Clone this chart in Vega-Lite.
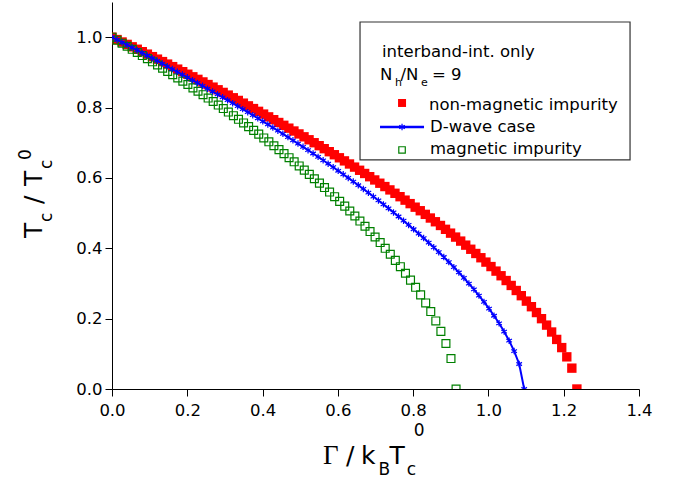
{
  "$schema": "https://vega.github.io/schema/vega-lite/v6.json",
  "width": 527,
  "height": 387,
  "autosize": "none",
  "padding": {"left": 112, "top": 2, "right": 38, "bottom": 91},
  "background": "white",
  "config": {
    "view": {"stroke": null},
    "axis": {"domainColor": "black", "tickColor": "black", "labelColor": "black", "grid": false, "labelFont": "DejaVu Sans", "labelFontSize": 16.5, "domainWidth": 1, "tickWidth": 1},
    "text": {"font": "DejaVu Sans", "color": "black"}
  },
  "datasets": {
    "red": [
      {"g":0,"t":1},{"g":0.0134,"t":0.9932},{"g":0.0268,"t":0.9863},{"g":0.0403,"t":0.9795},{"g":0.0537,"t":0.9726},{"g":0.0671,"t":0.9657},{"g":0.0805,"t":0.9587},{"g":0.094,"t":0.9518},{"g":0.1074,"t":0.9447},{"g":0.1208,"t":0.9376},{"g":0.1342,"t":0.9306},{"g":0.1477,"t":0.9235},{"g":0.1611,"t":0.9163},{"g":0.1745,"t":0.9092},{"g":0.1879,"t":0.902},{"g":0.2014,"t":0.8947},{"g":0.2148,"t":0.8874},{"g":0.2282,"t":0.8801},{"g":0.2416,"t":0.8728},{"g":0.2551,"t":0.8654},{"g":0.2685,"t":0.858},{"g":0.2819,"t":0.8505},{"g":0.2953,"t":0.843},{"g":0.3088,"t":0.8354},{"g":0.3222,"t":0.8278},{"g":0.3356,"t":0.8202},{"g":0.349,"t":0.8125},{"g":0.3624,"t":0.8048},{"g":0.3759,"t":0.7971},{"g":0.3893,"t":0.7892},{"g":0.4027,"t":0.7814},{"g":0.4161,"t":0.7735},{"g":0.4296,"t":0.7655},{"g":0.443,"t":0.7575},{"g":0.4564,"t":0.7495},{"g":0.4698,"t":0.7414},{"g":0.4833,"t":0.7333},{"g":0.4967,"t":0.725},{"g":0.5101,"t":0.7168},{"g":0.5235,"t":0.7084},{"g":0.537,"t":0.7},{"g":0.5504,"t":0.6916},{"g":0.5638,"t":0.6831},{"g":0.5772,"t":0.6745},{"g":0.5907,"t":0.6659},{"g":0.6041,"t":0.6572},{"g":0.6175,"t":0.6484},{"g":0.6309,"t":0.6396},{"g":0.6444,"t":0.6307},{"g":0.6578,"t":0.6217},{"g":0.6712,"t":0.6126},{"g":0.6846,"t":0.6034},{"g":0.698,"t":0.5942},{"g":0.7115,"t":0.5849},{"g":0.7249,"t":0.5754},{"g":0.7383,"t":0.5659},{"g":0.7517,"t":0.5563},{"g":0.7652,"t":0.5466},{"g":0.7786,"t":0.5368},{"g":0.792,"t":0.5269},{"g":0.8054,"t":0.5168},{"g":0.8189,"t":0.5067},{"g":0.8323,"t":0.4964},{"g":0.8457,"t":0.486},{"g":0.8591,"t":0.4754},{"g":0.8726,"t":0.4648},{"g":0.886,"t":0.4539},{"g":0.8994,"t":0.443},{"g":0.9128,"t":0.4318},{"g":0.9263,"t":0.4204},{"g":0.9397,"t":0.4089},{"g":0.9531,"t":0.3972},{"g":0.9665,"t":0.3852},{"g":0.98,"t":0.3731},{"g":0.9934,"t":0.3607},{"g":1.0068,"t":0.348},{"g":1.0202,"t":0.3351},{"g":1.0336,"t":0.3219},{"g":1.0471,"t":0.3083},{"g":1.0605,"t":0.2943},{"g":1.0739,"t":0.28},{"g":1.0873,"t":0.2652},{"g":1.1008,"t":0.2498},{"g":1.1142,"t":0.2339},{"g":1.1276,"t":0.2173},{"g":1.141,"t":0.1999},{"g":1.1545,"t":0.1816},{"g":1.1679,"t":0.162},{"g":1.1813,"t":0.1409},{"g":1.1947,"t":0.1177},{"g":1.2082,"t":0.0914},{"g":1.2216,"t":0.0593},{"g":1.235,"t":0}
    ],
    "blue": [
      {"g":0,"t":1},{"g":0.0134,"t":0.9926},{"g":0.0267,"t":0.9853},{"g":0.0401,"t":0.9779},{"g":0.0534,"t":0.9704},{"g":0.0668,"t":0.963},{"g":0.0801,"t":0.9554},{"g":0.0935,"t":0.9479},{"g":0.1068,"t":0.9403},{"g":0.1202,"t":0.9327},{"g":0.1335,"t":0.925},{"g":0.1469,"t":0.9172},{"g":0.1602,"t":0.9094},{"g":0.1736,"t":0.9016},{"g":0.187,"t":0.8938},{"g":0.2003,"t":0.8859},{"g":0.2137,"t":0.8779},{"g":0.227,"t":0.8699},{"g":0.2404,"t":0.8618},{"g":0.2537,"t":0.8537},{"g":0.2671,"t":0.8456},{"g":0.2804,"t":0.8374},{"g":0.2938,"t":0.8291},{"g":0.3071,"t":0.8208},{"g":0.3205,"t":0.8124},{"g":0.3339,"t":0.804},{"g":0.3472,"t":0.7955},{"g":0.3606,"t":0.7869},{"g":0.3739,"t":0.7783},{"g":0.3873,"t":0.7696},{"g":0.4006,"t":0.7608},{"g":0.414,"t":0.752},{"g":0.4273,"t":0.7432},{"g":0.4407,"t":0.7342},{"g":0.454,"t":0.7252},{"g":0.4674,"t":0.7161},{"g":0.4807,"t":0.7069},{"g":0.4941,"t":0.6977},{"g":0.5075,"t":0.6883},{"g":0.5208,"t":0.6789},{"g":0.5342,"t":0.6694},{"g":0.5475,"t":0.6598},{"g":0.5609,"t":0.6501},{"g":0.5742,"t":0.6403},{"g":0.5876,"t":0.6304},{"g":0.6009,"t":0.6203},{"g":0.6143,"t":0.6102},{"g":0.6276,"t":0.6},{"g":0.641,"t":0.5897},{"g":0.6543,"t":0.5792},{"g":0.6677,"t":0.5686},{"g":0.6811,"t":0.5579},{"g":0.6944,"t":0.547},{"g":0.7078,"t":0.536},{"g":0.7211,"t":0.5248},{"g":0.7345,"t":0.5135},{"g":0.7478,"t":0.502},{"g":0.7612,"t":0.4903},{"g":0.7745,"t":0.4785},{"g":0.7879,"t":0.4664},{"g":0.8012,"t":0.4541},{"g":0.8146,"t":0.4416},{"g":0.8279,"t":0.4289},{"g":0.8413,"t":0.4159},{"g":0.8547,"t":0.4026},{"g":0.868,"t":0.389},{"g":0.8814,"t":0.3752},{"g":0.8947,"t":0.3609},{"g":0.9081,"t":0.3463},{"g":0.9214,"t":0.3312},{"g":0.9348,"t":0.3157},{"g":0.9481,"t":0.2996},{"g":0.9615,"t":0.283},{"g":0.9748,"t":0.2656},{"g":0.9882,"t":0.2475},{"g":1.0016,"t":0.2284},{"g":1.0149,"t":0.2082},{"g":1.0283,"t":0.1867},{"g":1.0416,"t":0.1633},{"g":1.055,"t":0.1374},{"g":1.0683,"t":0.1077},{"g":1.0817,"t":0.0711},{"g":1.095,"t":0}
    ],
    "green": [
      {"g":0,"t":1},{"g":0.0134,"t":0.9915},{"g":0.0269,"t":0.9829},{"g":0.0403,"t":0.9742},{"g":0.0538,"t":0.9655},{"g":0.0672,"t":0.9567},{"g":0.0806,"t":0.9478},{"g":0.0941,"t":0.939},{"g":0.1075,"t":0.93},{"g":0.121,"t":0.9209},{"g":0.1344,"t":0.9118},{"g":0.1479,"t":0.9027},{"g":0.1613,"t":0.8935},{"g":0.1747,"t":0.8842},{"g":0.1882,"t":0.8749},{"g":0.2016,"t":0.8654},{"g":0.2151,"t":0.8559},{"g":0.2285,"t":0.8463},{"g":0.2419,"t":0.8366},{"g":0.2554,"t":0.8269},{"g":0.2688,"t":0.8171},{"g":0.2823,"t":0.8071},{"g":0.2957,"t":0.7971},{"g":0.3091,"t":0.7871},{"g":0.3226,"t":0.7769},{"g":0.336,"t":0.7666},{"g":0.3495,"t":0.7562},{"g":0.3629,"t":0.7457},{"g":0.3763,"t":0.7351},{"g":0.3898,"t":0.7244},{"g":0.4032,"t":0.7136},{"g":0.4167,"t":0.7026},{"g":0.4301,"t":0.6915},{"g":0.4436,"t":0.6803},{"g":0.457,"t":0.669},{"g":0.4704,"t":0.6575},{"g":0.4839,"t":0.6458},{"g":0.4973,"t":0.6341},{"g":0.5108,"t":0.6221},{"g":0.5242,"t":0.61},{"g":0.5376,"t":0.5977},{"g":0.5511,"t":0.5852},{"g":0.5645,"t":0.5726},{"g":0.578,"t":0.5597},{"g":0.5914,"t":0.5466},{"g":0.6048,"t":0.5333},{"g":0.6183,"t":0.5197},{"g":0.6317,"t":0.5059},{"g":0.6452,"t":0.4918},{"g":0.6586,"t":0.4773},{"g":0.6721,"t":0.4626},{"g":0.6855,"t":0.4475},{"g":0.6989,"t":0.4321},{"g":0.7124,"t":0.4162},{"g":0.7258,"t":0.3999},{"g":0.7393,"t":0.383},{"g":0.7527,"t":0.3657},{"g":0.7661,"t":0.3477},{"g":0.7796,"t":0.329},{"g":0.793,"t":0.3095},{"g":0.8065,"t":0.289},{"g":0.8199,"t":0.2675},{"g":0.8333,"t":0.2446},{"g":0.8468,"t":0.2201},{"g":0.8602,"t":0.1934},{"g":0.8737,"t":0.1637},{"g":0.8871,"t":0.1293},{"g":0.9005,"t":0.0865},{"g":0.914,"t":0}
    ]
  },
  "layer": [
    {
      "data": {"name": "red"},
      "mark": {"type": "point", "shape": "square", "filled": true, "color": "#ff0000", "opacity": 1, "size": 88, "clip": true},
      "encoding": {
        "x": {"field": "g", "type": "quantitative", "scale": {"domain": [0, 1.4], "nice": false, "zero": false},
          "axis": {"values": [0, 0.2, 0.4, 0.6, 0.8, 1.0, 1.2, 1.4], "format": ".1f", "title": null, "tickSize": 7, "labelPadding": 6, "labelFlush": false, "labelOverlap": false}},
        "y": {"field": "t", "type": "quantitative", "scale": {"domain": [0, 1.1], "nice": false, "zero": false},
          "axis": {"values": [0, 0.1, 0.2, 0.3, 0.4, 0.5, 0.6, 0.7, 0.8, 0.9, 1.0, 1.1], "labelExpr": "round(datum.value*10) % 2 == 1 ? '' : format(datum.value, '.1f')", "title": null,
            "tickSize": {"condition": {"test": "round(datum.value*10) % 2 == 1", "value": 4}, "value": 7}, "labelPadding": 3, "labelFlush": false, "labelOverlap": false}}
      }
    },
    {
      "data": {"name": "green"},
      "mark": {"type": "point", "shape": "square", "filled": false, "stroke": "#008000", "strokeWidth": 1.2, "opacity": 1, "size": 62, "clip": true},
      "encoding": {
        "x": {"field": "g", "type": "quantitative"},
        "y": {"field": "t", "type": "quantitative"}
      }
    },
    {
      "data": {"name": "blue"},
      "mark": {"type": "line", "color": "#0000ff", "strokeWidth": 2, "clip": true},
      "encoding": {
        "x": {"field": "g", "type": "quantitative"},
        "y": {"field": "t", "type": "quantitative"}
      }
    },
    {
      "data": {"name": "blue"},
      "mark": {"type": "point", "shape": "M0,-1L0,1M-0.87,-0.5L0.87,0.5M-0.87,0.5L0.87,-0.5", "filled": false, "stroke": "#0000ff", "strokeWidth": 1.2, "opacity": 1, "size": 42, "clip": true},
      "encoding": {
        "x": {"field": "g", "type": "quantitative"},
        "y": {"field": "t", "type": "quantitative"}
      }
    },
    {
      "data": {"values": [{}]},
      "mark": {"type": "rect", "fill": "white", "stroke": "#333333", "strokeWidth": 1.2},
      "encoding": {
        "x": {"datum": 0.6589, "type": "quantitative"},
        "x2": {"datum": 1.3762},
        "y": {"datum": 1.0432, "type": "quantitative"},
        "y2": {"datum": 0.651}
      }
    },
    {"data": {"values": [{}]}, "mark": {"type": "text", "text": "interband-int. only", "fontSize": 16.5, "align": "left", "baseline": "alphabetic"},
      "encoding": {"x": {"datum": 0.7173, "type": "quantitative"}, "y": {"datum": 0.9449, "type": "quantitative"}}},
    {"data": {"values": [{}]}, "mark": {"type": "text", "text": "N", "fontSize": 16.5, "align": "left", "baseline": "alphabetic"},
      "encoding": {"x": {"datum": 0.712, "type": "quantitative"}, "y": {"datum": 0.8795, "type": "quantitative"}}},
    {"data": {"values": [{}]}, "mark": {"type": "text", "text": "h", "fontSize": 11, "align": "left", "baseline": "alphabetic"},
      "encoding": {"x": {"datum": 0.7519, "type": "quantitative"}, "y": {"datum": 0.8613, "type": "quantitative"}}},
    {"data": {"values": [{}]}, "mark": {"type": "text", "text": "/N", "fontSize": 16.5, "align": "left", "baseline": "alphabetic"},
      "encoding": {"x": {"datum": 0.7665, "type": "quantitative"}, "y": {"datum": 0.8795, "type": "quantitative"}}},
    {"data": {"values": [{}]}, "mark": {"type": "text", "text": "e", "fontSize": 11, "align": "left", "baseline": "alphabetic"},
      "encoding": {"x": {"datum": 0.8209, "type": "quantitative"}, "y": {"datum": 0.8613, "type": "quantitative"}}},
    {"data": {"values": [{}]}, "mark": {"type": "text", "text": "= 9", "fontSize": 16.5, "align": "left", "baseline": "alphabetic"},
      "encoding": {"x": {"datum": 0.8502, "type": "quantitative"}, "y": {"datum": 0.8795, "type": "quantitative"}}},
    {"data": {"values": [{}]}, "mark": {"type": "point", "shape": "square", "filled": true, "color": "#ff0000", "opacity": 1, "size": 64},
      "encoding": {"x": {"datum": 0.7705, "type": "quantitative"}, "y": {"datum": 0.813, "type": "quantitative"}}},
    {"data": {"values": [{}]}, "mark": {"type": "text", "text": "non-magnetic impurity", "fontSize": 16.5, "align": "left", "baseline": "alphabetic"},
      "encoding": {"x": {"datum": 0.8422, "type": "quantitative"}, "y": {"datum": 0.7931, "type": "quantitative"}}},
    {"data": {"values": [{}]}, "mark": {"type": "rule", "color": "#0000ff", "strokeWidth": 2.5},
      "encoding": {"x": {"datum": 0.712, "type": "quantitative"}, "x2": {"datum": 0.8289}, "y": {"datum": 0.7447, "type": "quantitative"}}},
    {"data": {"values": [{}]}, "mark": {"type": "point", "shape": "M0,-1L0,1M-0.87,-0.5L0.87,0.5M-0.87,0.5L0.87,-0.5", "filled": false, "stroke": "#0000ff", "strokeWidth": 1.2, "opacity": 1, "size": 42},
      "encoding": {"x": {"datum": 0.7705, "type": "quantitative"}, "y": {"datum": 0.7447, "type": "quantitative"}}},
    {"data": {"values": [{}]}, "mark": {"type": "text", "text": "D-wave case", "fontSize": 16.5, "align": "left", "baseline": "alphabetic"},
      "encoding": {"x": {"datum": 0.8448, "type": "quantitative"}, "y": {"datum": 0.7305, "type": "quantitative"}}},
    {"data": {"values": [{}]}, "mark": {"type": "point", "shape": "square", "filled": false, "stroke": "#008000", "strokeWidth": 1.2, "opacity": 1, "size": 42},
      "encoding": {"x": {"datum": 0.7705, "type": "quantitative"}, "y": {"datum": 0.6794, "type": "quantitative"}}},
    {"data": {"values": [{}]}, "mark": {"type": "text", "text": "magnetic impurity", "fontSize": 16.5, "align": "left", "baseline": "alphabetic"},
      "encoding": {"x": {"datum": 0.8448, "type": "quantitative"}, "y": {"datum": 0.668, "type": "quantitative"}}},
    {"data": {"values": [{}]}, "mark": {"type": "text", "text": "Γ", "font": "Liberation Serif", "fontSize": 27, "align": "left", "baseline": "alphabetic", "dy": 75},
      "encoding": {"x": {"datum": 0.5606, "type": "quantitative"}, "y": {"datum": 0, "type": "quantitative"}}},
    {"data": {"values": [{}]}, "mark": {"type": "text", "text": "/", "fontSize": 25, "align": "left", "baseline": "alphabetic", "dy": 75},
      "encoding": {"x": {"datum": 0.6217, "type": "quantitative"}, "y": {"datum": 0, "type": "quantitative"}}},
    {"data": {"values": [{}]}, "mark": {"type": "text", "text": "k", "fontSize": 25, "align": "left", "baseline": "alphabetic", "dy": 75},
      "encoding": {"x": {"datum": 0.6616, "type": "quantitative"}, "y": {"datum": 0, "type": "quantitative"}}},
    {"data": {"values": [{}]}, "mark": {"type": "text", "text": "B", "fontSize": 17, "align": "left", "baseline": "alphabetic", "dy": 86},
      "encoding": {"x": {"datum": 0.708, "type": "quantitative"}, "y": {"datum": 0, "type": "quantitative"}}},
    {"data": {"values": [{}]}, "mark": {"type": "text", "text": "T", "fontSize": 25, "align": "left", "baseline": "alphabetic", "dy": 75},
      "encoding": {"x": {"datum": 0.7373, "type": "quantitative"}, "y": {"datum": 0, "type": "quantitative"}}},
    {"data": {"values": [{}]}, "mark": {"type": "text", "text": "c", "fontSize": 17, "align": "left", "baseline": "alphabetic", "dy": 86},
      "encoding": {"x": {"datum": 0.7831, "type": "quantitative"}, "y": {"datum": 0, "type": "quantitative"}}},
    {"data": {"values": [{}]}, "mark": {"type": "text", "text": "0", "fontSize": 17, "align": "left", "baseline": "alphabetic", "dy": 47},
      "encoding": {"x": {"datum": 0.8017, "type": "quantitative"}, "y": {"datum": 0, "type": "quantitative"}}},
    {"data": {"values": [{}]}, "mark": {"type": "text", "text": "T", "fontSize": 25, "align": "left", "baseline": "alphabetic", "angle": 270, "dx": 151, "dy": -70},
      "encoding": {"x": {"datum": 0, "type": "quantitative"}, "y": {"datum": 0, "type": "quantitative"}}},
    {"data": {"values": [{}]}, "mark": {"type": "text", "text": "c", "fontSize": 17, "align": "left", "baseline": "alphabetic", "angle": 270, "dx": 167, "dy": -60},
      "encoding": {"x": {"datum": 0, "type": "quantitative"}, "y": {"datum": 0, "type": "quantitative"}}},
    {"data": {"values": [{}]}, "mark": {"type": "text", "text": "/", "fontSize": 25, "align": "left", "baseline": "alphabetic", "angle": 270, "dx": 185, "dy": -70},
      "encoding": {"x": {"datum": 0, "type": "quantitative"}, "y": {"datum": 0, "type": "quantitative"}}},
    {"data": {"values": [{}]}, "mark": {"type": "text", "text": "T", "fontSize": 25, "align": "left", "baseline": "alphabetic", "angle": 270, "dx": 203, "dy": -70},
      "encoding": {"x": {"datum": 0, "type": "quantitative"}, "y": {"datum": 0, "type": "quantitative"}}},
    {"data": {"values": [{}]}, "mark": {"type": "text", "text": "c", "fontSize": 17, "align": "left", "baseline": "alphabetic", "angle": 270, "dx": 220, "dy": -60},
      "encoding": {"x": {"datum": 0, "type": "quantitative"}, "y": {"datum": 0, "type": "quantitative"}}},
    {"data": {"values": [{}]}, "mark": {"type": "text", "text": "0", "fontSize": 17, "align": "left", "baseline": "alphabetic", "angle": 270, "dx": 229, "dy": -81},
      "encoding": {"x": {"datum": 0, "type": "quantitative"}, "y": {"datum": 0, "type": "quantitative"}}}
  ]
}
